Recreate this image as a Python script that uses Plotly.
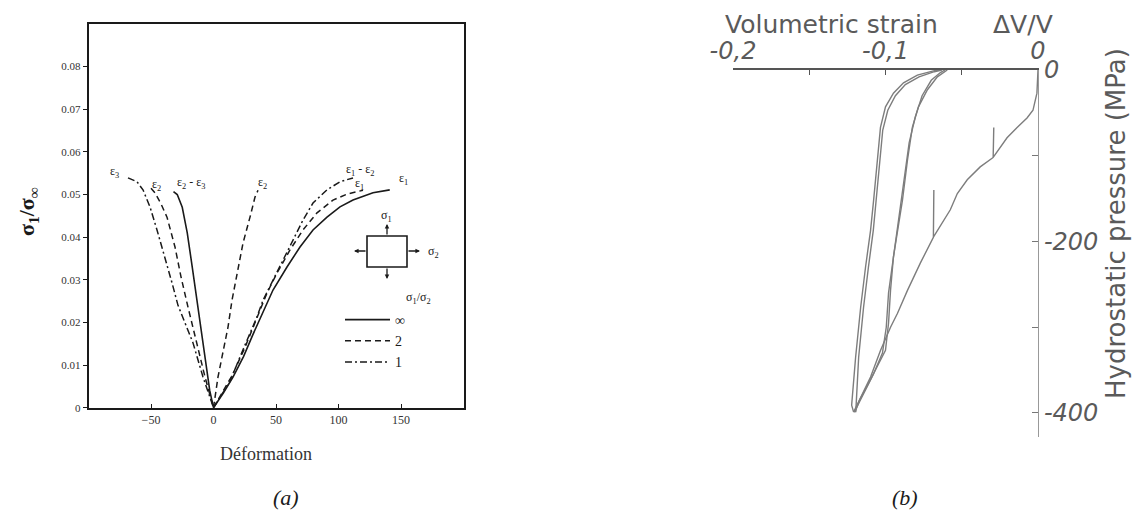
import plotly.graph_objects as go

# ---------------- Panel (a) data ----------------
ratio_names = ["∞", "2", "1"]

inf_left_x = [-32, -29, -25, -21, -17, -13, -10, -6, -3, 0]
inf_left_y = [0.0507, 0.0500, 0.0470, 0.0410, 0.0330, 0.0250, 0.0180, 0.0100, 0.0040, 0.0]
inf_right_x = [0, 8, 15.6, 24, 31.6, 39.6, 47.6, 58.8, 69.2, 79.6, 90.8, 101.2, 111.6, 127.6, 141]
inf_right_y = [0, 0.0035, 0.0072, 0.0120, 0.0172, 0.0226, 0.0276, 0.0330, 0.0377, 0.0417, 0.0447, 0.0471, 0.0487, 0.0504, 0.0511]

two_left_x = [-50, -46.8, -42, -37.2, -30.8, -26, -20.4, -13.2, -6.8, 0]
two_left_y = [0.0515, 0.0504, 0.0478, 0.0447, 0.0377, 0.0307, 0.0236, 0.0152, 0.0072, 0]
two_e2_x = [0, 3.6, 6.8, 11.6, 14.8, 18.8, 23.6, 29.2, 33.2, 35.6]
two_e2_y = [0, 0.0072, 0.0119, 0.0189, 0.0252, 0.0316, 0.0386, 0.0447, 0.0494, 0.0510]
two_right_x = [0, 7, 14.8, 25, 35.6, 42.8, 50.8, 61.2, 71.6, 82.8, 95.6, 106.8, 119.6]
two_right_y = [0, 0.0035, 0.0075, 0.0140, 0.0215, 0.0269, 0.0316, 0.0370, 0.0417, 0.0457, 0.0487, 0.0501, 0.0510]

one_left_x = [-68.4, -61.2, -56.4, -50.8, -45.2, -38.8, -33.2, -28.4, -22, -16.4, -8.4, 0]
one_left_y = [0.0539, 0.0530, 0.0511, 0.0471, 0.0417, 0.0353, 0.0293, 0.0240, 0.0195, 0.0152, 0.0072, 0]
one_right_x = [0, 6, 13.2, 23.6, 34.8, 39.6, 47.6, 55.6, 63.6, 71.6, 79.6, 90.8, 101.2, 111.6]
one_right_y = [0, 0.0028, 0.0062, 0.0136, 0.0213, 0.0252, 0.0299, 0.0346, 0.0393, 0.0440, 0.0480, 0.0511, 0.0530, 0.0539]

eps_text = ["ε<sub>3</sub>", "ε<sub>2</sub>", "ε<sub>2</sub> - ε<sub>3</sub>", "ε<sub>2</sub>",
            "ε<sub>1</sub> - ε<sub>2</sub>", "ε<sub>1</sub>", "ε<sub>1</sub>"]
eps_x = [-79, -46, -18, 39, 117, 117, 152]
eps_y = [0.0553, 0.0523, 0.0527, 0.0527, 0.0558, 0.0525, 0.0536]

a_xticks = [-50, 0, 50, 100, 150]
a_yticks = [0, 0.01, 0.02, 0.03, 0.04, 0.05, 0.06, 0.07, 0.08]
a_yticktext = ["0", "0.01", "0.02", "0.03", "0.04", "0.05", "0.06", "0.07", "0.08"]

# ---------------- Panel (b) data ----------------
load_strain = [0, -0.0007, -0.0033, -0.0072, -0.0137, -0.0203, -0.0294, -0.0290, -0.0294,
               -0.0379, -0.0464, -0.0529, -0.0575, -0.0686, -0.0683, -0.0686, -0.0771,
               -0.0856, -0.0922, -0.0967, -0.1033, -0.1098, -0.1163, -0.1209]
load_p = [0, -27, -47, -56, -67, -79, -102, -67, -102, -113, -128, -144, -163, -195, -140,
          -195, -225, -257, -284, -300, -327, -358, -382, -399]

unload1_strain = [-0.1209, -0.1222, -0.1196, -0.1163, -0.1131, -0.1098, -0.1078, -0.1052,
                  -0.1033, -0.1000, -0.0948, -0.0882, -0.0791, -0.0686, -0.0641]
unload1_p = [-399, -391, -335, -277, -230, -187, -152, -105, -67, -43, -27, -15, -6, -1, 0]

reload1_strain = [-0.0630, -0.0680, -0.0780, -0.0870, -0.0935, -0.0985, -0.1018, -0.1036,
                  -0.1060, -0.1080, -0.1112, -0.1144, -0.1176, -0.1195]
reload1_p = [0, -2, -8, -17, -30, -47, -70, -105, -150, -187, -230, -277, -335, -399]

reload2_strain = [-0.0595, -0.0660, -0.0725, -0.0784, -0.0824, -0.0856, -0.0889, -0.0915,
                  -0.0948, -0.0967, -0.0980, -0.1000, -0.1050, -0.1110, -0.1170, -0.1200]
reload2_p = [0, -8, -23, -43, -67, -105, -152, -179, -218, -257, -295, -327, -345, -365, -385, -399]

unload2_strain = [-0.1205, -0.1150, -0.1080, -0.1020, -0.0995, -0.0980, -0.0935, -0.0905,
                  -0.0875, -0.0845, -0.0805, -0.0760, -0.0700, -0.0640, -0.0610]
unload2_p = [-399, -380, -355, -330, -300, -260, -200, -160, -120, -85, -55, -30, -12, -3, 0]

b_xticks = [-0.2, -0.15, -0.1, -0.05, 0]
b_xticktext = ["-0,2", "", "-0,1", "", "0"]
b_yticks = [0, -100, -200, -300, -400]
b_yticktext = ["0", "", "-200", "", "-400"]

# ---------------- Figure ----------------
W, H = 1144, 515
SERIF = "Liberation Serif"
SANS = "DejaVu Sans"
BLK = "#1a1a1a"
GRY = "#5a5a5a"

def px(xp):
    return xp / W

def py(yp):
    return 1 - yp / H

fig = go.Figure()

styles = [("solid", 1.6), ("6px,4px", 1.5), ("7px,3px,2px,3px", 1.5)]
branches = [
    [(inf_left_x, inf_left_y), (inf_right_x, inf_right_y)],
    [(two_left_x, two_left_y), (two_e2_x, two_e2_y), (two_right_x, two_right_y)],
    [(one_left_x, one_left_y), (one_right_x, one_right_y)],
]
for name, (dash, w), brs in zip(ratio_names, styles, branches):
    for i, (bx, by) in enumerate(brs):
        fig.add_trace(go.Scatter(
            x=bx, y=by, mode="lines", name=name, legendgroup=name,
            showlegend=(i == 0), line=dict(color=BLK, width=w, dash=dash),
            xaxis="x", yaxis="y", hoverinfo="skip"))

b_color = "#7d7d7d"
for sx, sp in [(load_strain, load_p), (unload1_strain, unload1_p),
               (reload1_strain, reload1_p), (reload2_strain, reload2_p),
               (unload2_strain, unload2_p)]:
    fig.add_trace(go.Scatter(
        x=sx, y=sp, mode="lines", showlegend=False,
        line=dict(color=b_color, width=1.4), xaxis="x2", yaxis="y2", hoverinfo="skip"))

annotations = []
for t, ex, ey in zip(eps_text, eps_x, eps_y):
    annotations.append(dict(x=ex, y=ey, xref="x", yref="y", text=t, showarrow=False,
                            xanchor="center", yanchor="middle",
                            font=dict(family=SERIF, size=12, color=BLK)))


def label(xp, yp, text, font, angle=0, xanchor="center"):
    return dict(x=px(xp), y=py(yp), xref="paper", yref="paper", text=text,
                textangle=angle, showarrow=False, xanchor=xanchor, yanchor="middle",
                font=font)


annotations += [
    label(28, 212, "σ<sub>1</sub>/σ<sub>∞</sub>",
          dict(family=SERIF, size=22, color=BLK, weight="bold"), angle=-90),
    label(266, 454, "Déformation", dict(family=SERIF, size=18, color="#333")),
    label(418, 298, "σ<sub>1</sub>/σ<sub>2</sub>", dict(family=SERIF, size=12, color=BLK)),
    label(386, 216, "σ<sub>1</sub>", dict(family=SERIF, size=12, color=BLK)),
    label(433, 252, "σ<sub>2</sub>", dict(family=SERIF, size=12, color=BLK)),
    label(286, 497, "(a)", dict(family=SERIF, size=22, color=BLK, style="italic")),
    label(905, 497, "(b)", dict(family=SERIF, size=22, color=BLK, style="italic")),
    label(723, 25, "Volumetric strain", dict(family=SANS, size=25, color=GRY), xanchor="left"),
    label(1055, 25, "ΔV/V", dict(family=SANS, size=25, color=GRY), xanchor="right"),
    label(1116, 224, "Hydrostatic pressure (MPa)", dict(family=SANS, size=26, color=GRY), angle=-90),
]
# stress arrows
for hx, hy, ax, ay in [(387, 224, 0, 12), (387, 279, 0, -12), (354, 251, 13, 0), (420, 251, -13, 0)]:
    annotations.append(dict(x=px(hx), y=py(hy), xref="paper", yref="paper", text="",
                            showarrow=True, ax=ax, ay=ay, arrowhead=2, arrowsize=0.7,
                            arrowwidth=1.3, arrowcolor=BLK))

shapes = [dict(type="rect", xref="paper", yref="paper", x0=px(367), x1=px(407),
               y0=py(267), y1=py(236), line=dict(color=BLK, width=1.6))]

fig.update_layout(
    width=W, height=H, margin=dict(l=0, r=0, t=0, b=0, autoexpand=False),
    paper_bgcolor="white", plot_bgcolor="white",
    xaxis=dict(domain=[px(88.5), px(463.5)], range=[-100, 200], tickvals=a_xticks,
               showline=True, mirror=True, linecolor=BLK, linewidth=1.6, automargin=False,
               ticks="inside", ticklen=4, tickcolor=BLK, showgrid=False, zeroline=False,
               tickfont=dict(family=SERIF, size=12, color="#333"), anchor="y"),
    yaxis=dict(domain=[py(407.7), py(24)], range=[0, 0.09], tickvals=a_yticks,
               ticktext=a_yticktext, showline=True, mirror=True, linecolor=BLK, automargin=False,
               linewidth=1.6, ticks="outside", ticklen=4, tickcolor=BLK, showgrid=False,
               zeroline=False, tickfont=dict(family=SERIF, size=11, color="#333"), anchor="x"),
    xaxis2=dict(domain=[px(733), px(1038)], range=[-0.2, 0], side="top", anchor="y2",
                tickvals=b_xticks, ticktext=b_xticktext, showline=True, linecolor="#555",
                linewidth=1.5, ticks="inside", ticklen=5, tickcolor="#555", automargin=False,
                showgrid=False, zeroline=False,
                tickfont=dict(family=SANS, size=24, color=GRY, style="italic")),
    yaxis2=dict(domain=[py(437), py(70)], range=[-428, 0], side="right", anchor="x2",
                tickvals=b_yticks, ticktext=b_yticktext, showline=True, linecolor="#999",
                linewidth=1.2, ticks="inside", ticklen=6, tickcolor="#777", automargin=False,
                showgrid=False, zeroline=False,
                tickfont=dict(family=SANS, size=24, color=GRY, style="italic")),
    legend=dict(x=px(340), y=py(304), xanchor="left", yanchor="top",
                font=dict(family=SERIF, size=14, color=BLK), bgcolor="rgba(0,0,0,0)",
                tracegroupgap=0, itemwidth=45),
    annotations=annotations, shapes=shapes,
)

fig.write_html("out.html", config={"displayModeBar": False},
               post_script="document.body.style.margin='0';")
